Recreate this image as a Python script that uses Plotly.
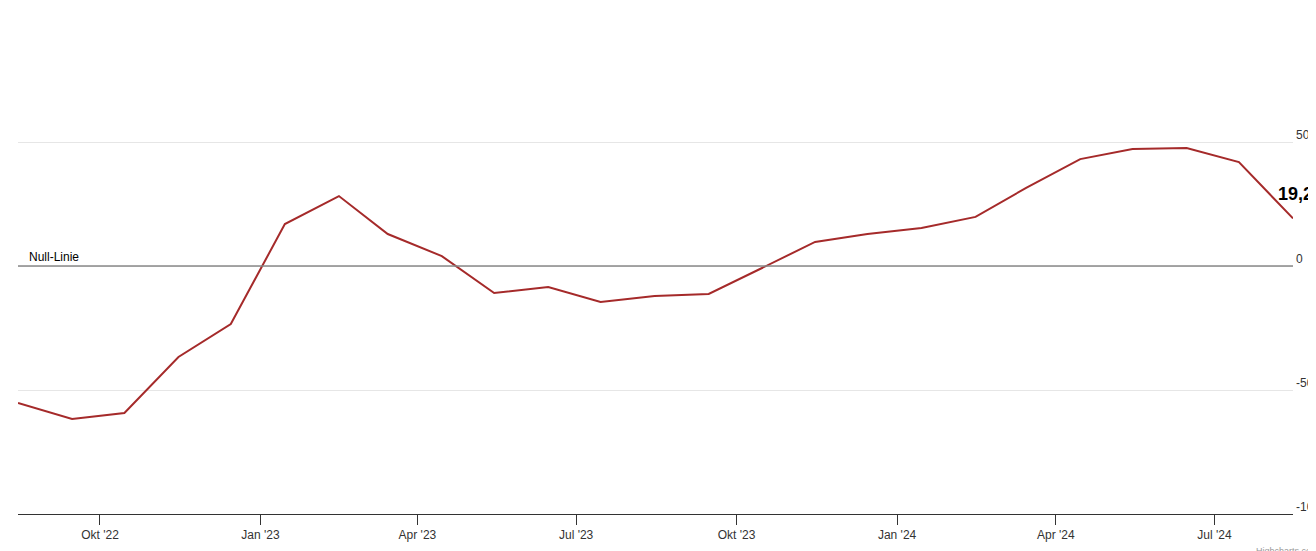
import plotly.graph_objects as go
import pandas as pd

months = pd.date_range("2022-08-01", periods=25, freq="MS") + pd.Timedelta(days=14)
values = [-55.2, -61.7, -59.3, -36.7, -23.4, 16.9, 28.2, 12.9, 4.0, -10.9, -8.5, -14.5,
          -12.1, -11.3, -1.0, 9.7, 12.9, 15.3, 19.8, 31.5, 43.1, 47.2, 47.6, 41.9, 19.2]
tick_dates = ["2022-10-01", "2023-01-01", "2023-04-01", "2023-07-01", "2023-10-01",
              "2024-01-01", "2024-04-01", "2024-07-01"]
tick_labels = ["Okt '22", "Jan '23", "Apr '23", "Jul '23", "Okt '23",
               "Jan '24", "Apr '24", "Jul '24"]
y_ticks = [-100, -50, 0, 50, 100]
y_labels = ["-100", "-50", "0", "50", "100"]

fig = go.Figure()
fig.add_trace(go.Scatter(x=months, y=values, mode="lines",
                         line=dict(color="#a52a2a", width=2), hoverinfo="x+y"))

# zero line
fig.add_hline(y=0, line=dict(color="#888888", width=1.5))
fig.add_annotation(x=0, xref="paper", y=0, yref="y", text="Null-Linie", showarrow=False,
                   xanchor="left", yanchor="bottom", xshift=9, font=dict(size=12, color="#000"))
fig.add_annotation(x=months[-1], y=values[-1], text="<b>19,2</b>", showarrow=False,
                   xanchor="center", yanchor="bottom", yshift=12, xshift=2,
                   font=dict(size=18, color="#000", family="Liberation Sans Narrow, Arial"))
fig.add_annotation(x=1, xref="paper", y=0, yref="paper", yshift=-44, xshift=28,
                   text="Highcharts.com", showarrow=False, xanchor="right", yanchor="bottom",
                   font=dict(size=9, color="#999"))

fig.update_layout(
    width=1316, height=551, margin=dict(l=10, r=31, t=10, b=45),
    plot_bgcolor="white", paper_bgcolor="white", showlegend=False,
    font=dict(family="Liberation Sans, Arial", size=12, color="#333"),
    xaxis=dict(range=[months[0], months[-1]], tickvals=tick_dates, ticktext=tick_labels,
               showgrid=False, ticks="outside", ticklen=10, tickcolor="#333",
               showline=True, linecolor="#333", linewidth=1, zeroline=False,
               automargin=False, tickfont=dict(size=12, color="#333")),
    yaxis=dict(range=[-100, 100], tickvals=y_ticks, ticktext=y_labels, side="right",
               showgrid=True, gridcolor="#e6e6e6", zeroline=False, automargin=False,
               ticklabelshift=-7, ticklabelstandoff=2,
               tickfont=dict(size=12, color="#333")),
)
fig.write_html("out.html")
